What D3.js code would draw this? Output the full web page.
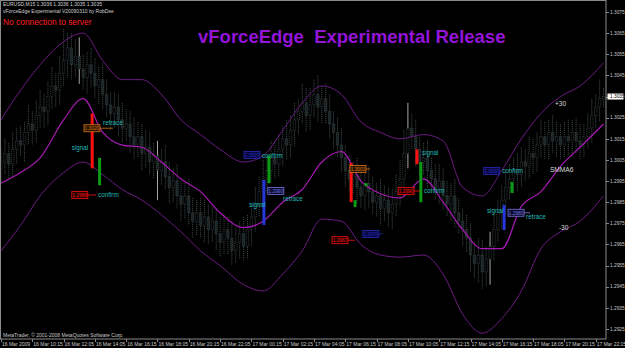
<!DOCTYPE html>
<html>
<head>
<meta charset="utf-8">
<script src="https://cdn.jsdelivr.net/npm/d3@7"></script>
<style>
  html, body { margin: 0; padding: 0; background: #000; overflow: hidden; }
  svg { display: block; }
  text { font-family: "Liberation Sans", Arial, sans-serif; }
</style>
</head>
<body>
<div id="chart"></div>
<script>
// EURUSD price data, pips above 1.2900
const BASE = 1.29, PIP = 0.0001;
const OPEN0 = 101;
const closes = [
  104,108,103,110,114,112,118,122,119,126,
  130,128,135,140,138,146,152,158,150,154,
  148,144,150,146,140,143,136,131,127,130,
  124,120,122,116,112,116,108,111,104,107,
  100,104,97,92,95,88,84,88,80,76,
  80,74,78,72,76,70,66,72,68,62,
  66,70,64,72,78,84,90,96,100,106,
  103,110,115,112,119,124,128,132,126,131,
  136,130,134,128,122,118,112,106,100,96,
  98,92,88,94,90,85,88,82,86,80,
  84,90,96,108,120,116,110,104,106,100,
  96,92,95,88,84,88,80,76,72,68,
  60,56,60,52,58,64,72,80,86,92,
  96,100,98,104,102,108,106,112,116,112,
  118,114,116,112,116,114,118,114,112,116,
  120,126,130,134,135
];
const wickUp = [
  6,7,5,8,6,7,5,9,6,7, 8,6,7,9,6,8,15,7,7,8, 9,7,6,8,7,6,8,7,6,7,
  6,8,7,6,9,7,6,8,7,6, 7,6,8,7,6,8,7,6,8,7, 6,7,8,6,7,6,8,7,6,7,
  7,6,8,7,6,8,7,9,7,8, 8,7,6,9,7,8,6,9,7,8, 7,9,6,7,8,6,7,8,6,7,
  6,8,7,6,8,7,6,8,7,6, 7,8,9,11,12,7,8,6,7,8, 6,7,8,6,7,6,8,7,6,7,
  7,6,8,7,6,7,8,6,7,8, 7,6,8,7,6,8,7,6,8,7, 6,8,7,6,7,8,6,7,8,6,
  7,8,6,9,4
];
const wickDn = [
  7,6,8,6,7,5,8,6,7,6, 6,8,7,6,8,7,6,8,7,6, 7,6,8,7,6,9,7,6,8,7,
  8,7,6,8,7,6,8,7,6,8, 14,7,6,8,7,6,8,7,6,8, 7,6,8,7,6,8,7,6,8,7,
  6,8,7,6,8,7,6,8,7,6, 7,6,8,7,6,8,7,6,8,7, 6,7,8,6,7,8,6,7,8,6,
  7,8,6,7,8,6,7,8,6,7, 8,6,7,9,7,6,8,7,6,8, 7,6,8,7,6,8,7,6,8,7,
  8,7,9,8,7,12,7,6,8,7, 6,7,8,6,7,6,8,7,6,7, 7,6,8,7,6,7,8,6,7,6,
  6,7,6,7,4
];
const whiteBars = [20, 40, 104, 125];

// SMMA6 and +/-30 envelopes (sampled bars, pips)
const lineBars = [0,5,10,16,21,26,31,36,41,46,51,56,62,67,72,77,82,87,92,97,102,108,113,118,123,128,133,138,143,148,154];
const smma   = [94,99,106,124,134,118,112,111,104,96,90,80,73,76,85,91,104,109,95,89,87,96,85,72,63,63,83,90,102,111,122];
const upper  = [124,138,150,161,165,152,143,143,136,124,117,110,104,107,119,132,140,136,123,118,115,117,114,92,88,100,115,127,135,140,151];
const lower  = [62,74,88,99,104,98,91,86,79,71,62,55,46,43,51,62,77,76,65,60,59,60,51,32,23,30,43,63,71,76,88];

// signal bars and price boxes
const signalBars = [
  { bar: 23.3, from: 127, to: 101, kind: 'red' },
  { bar: 25.2, from: 106, to: 93, kind: 'green' },
  { bar: 67.2, from: 95.5, to: 74.2, kind: 'blue' },
  { bar: 68.5, from: 107, to: 94, kind: 'green' },
  { bar: 89.5, from: 103.5, to: 85, kind: 'red' },
  { bar: 90.5, from: 86, to: 82.7, kind: 'green' },
  { bar: 93.3, from: 94, to: 92.5, kind: 'green' },
  { bar: 106.3, from: 110, to: 103, kind: 'red' },
  { bar: 107.3, from: 104, to: 85, kind: 'green' },
  { bar: 128.6, from: 83.7, to: 71.8, kind: 'blue' },
  { bar: 130.6, from: 94.6, to: 89.4, kind: 'green' }
];
const priceBoxes = [
  { bar: 21.2, pips: 120, end: 28.6, kind: 'orange' },
  { bar: 18.1, pips: 88.4, end: 24.3, kind: 'red' },
  { bar: 62.1, pips: 107.3, end: null, kind: 'navy' },
  { bar: 68.2, pips: 90.3, end: 72, kind: 'lilac' },
  { bar: 89.2, pips: 100.7, end: 94.3, kind: 'orange' },
  { bar: 84.6, pips: 67, end: 90.5, kind: 'red' },
  { bar: 92.5, pips: 70, end: 97.6, kind: 'navy' },
  { bar: 101.5, pips: 90.3, end: 107.1, kind: 'red' },
  { bar: 123.4, pips: 99.8, end: null, kind: 'navy' },
  { bar: 129.6, pips: 80, end: 135.2, kind: 'lilac' }
];
const notes = [
  { bar: 26.1, pips: 122.5, text: 'retrace' },
  { bar: 18.1, pips: 110.6, text: 'signal' },
  { bar: 24.8, pips: 88.4, text: 'confirm' },
  { bar: 66.7, pips: 106.9, text: 'confirm' },
  { bar: 63.4, pips: 83.7, text: 'signal' },
  { bar: 72.1, pips: 86.5, text: 'retrace' },
  { bar: 107.6, pips: 108.3, text: 'signal' },
  { bar: 108.1, pips: 90.3, text: 'confirm' },
  { bar: 128.1, pips: 99.8, text: 'confirm' },
  { bar: 124.2, pips: 80.8, text: 'signal' },
  { bar: 134.2, pips: 78, text: 'retrace' }
];
const bandLabels = [
  { bar: 141.6, pips: 131.5, text: '+30' },
  { bar: 140.3, pips: 100.2, text: 'SMMA6' },
  { bar: 142.6, pips: 72.8, text: '-30' }
];

// axes
const yTicks = [1.2925,1.2935,1.2945,1.2955,1.2965,1.2975,1.2985,1.2995,1.3005,1.3015,1.3025,1.3035,1.3045,1.3055,1.3065,1.3075];
const xTickBars = [0,8,16,24,32,40,48,56,64,72,80,88,96,104,112,120,128,136,144,152];
const xTickLabels = ['16 Mar 2009','16 Mar 10:15','16 Mar 12:05','16 Mar 14:05','16 Mar 16:15','16 Mar 18:05',
  '16 Mar 20:15','16 Mar 22:05','17 Mar 00:15','17 Mar 02:15','17 Mar 04:05','17 Mar 06:15','17 Mar 08:05',
  '17 Mar 10:05','17 Mar 12:15','17 Mar 14:05','17 Mar 16:15','17 Mar 18:05','17 Mar 20:15','17 Mar 22:15'];
const lastPrice = 1.3035;
const headerLines = ['EURUSD,M15  1.3036 1.3036 1.3035 1.3035', 'vForceEdge Experimental V20090310 by RobDee'];

class MtChart {
  constructor(container) {
    this.container = document.querySelector(container);
    this.width = 625;
    this.height = 348;
    this.plotW = 606;
    this.plotH = 339;
    this.colors = {
      red: '#ff1010', green: '#0a9a14', blue: '#2636d8',
      orange: '#d8761a', navy: '#2a2ab8', lilac: '#7676e6',
      note: '#22b8b8', axis: '#8a8a8a', label: '#c8c8c8'
    };
  }

  render() {
    const W = this.width, H = this.height, C = this.colors;
    const price = p => BASE + p * PIP;

    const svg = d3.select(this.container).append('svg')
      .attr('width', W).attr('height', H)
      .style('background', '#000');

    const x = d3.scaleLinear().domain([0, 154]).range([1, 1 + 3.9125 * 154]);
    const y = d3.scaleLinear().domain([1.2925, 1.3075]).range([329, 12]);

    const plot = svg.append('g');
    plot.append('clipPath').attr('id', 'clip')
      .append('rect').attr('width', this.plotW).attr('height', this.plotH);
    const g = plot.append('g').attr('clip-path', 'url(#clip)');

    // candles
    const bars = closes.map((c, i) => {
      const o = i === 0 ? OPEN0 : closes[i - 1];
      return { i, o, c, h: Math.max(o, c) + wickUp[i], l: Math.min(o, c) - wickDn[i] };
    });
    const cg = g.append('g');
    bars.forEach(d => {
      const white = whiteBars.includes(d.i);
      const col = '#3c4848';
      cg.append('line')
        .attr('x1', x(d.i)).attr('x2', x(d.i))
        .attr('y1', y(price(d.h))).attr('y2', y(price(d.l)))
        .attr('stroke', white ? '#b8b8b8' : col).attr('stroke-width', 0.9)
        .attr('stroke-dasharray', white ? null : '1.2,0.8');
      const top = y(price(Math.max(d.o, d.c)));
      const bot = y(price(Math.min(d.o, d.c)));
      cg.append('rect')
        .attr('x', x(d.i) - 1.2).attr('width', 2.4)
        .attr('y', top).attr('height', Math.max(0.8, bot - top))
        .attr('fill', d.c >= d.o ? '#000' : '#1c2626')
        .attr('stroke', col).attr('stroke-width', 0.7)
        .attr('stroke-dasharray', '1.2,0.8');
    });

    // envelope lines
    const line = arr => d3.line()
      .x((d, k) => x(lineBars[k]))
      .y(d => y(price(d)))
      .curve(d3.curveMonotoneX)(arr);
    g.append('path').attr('d', line(upper)).attr('fill', 'none').attr('stroke', '#6c1a84').attr('stroke-width', 1);
    g.append('path').attr('d', line(lower)).attr('fill', 'none').attr('stroke', '#6c1a84').attr('stroke-width', 1);
    g.append('path').attr('d', line(smma)).attr('fill', 'none').attr('stroke', '#a81ab4').attr('stroke-width', 1.2);

    // signal bars
    g.selectAll('rect.sig').data(signalBars).enter().append('rect')
      .attr('class', 'sig')
      .attr('x', d => x(d.bar) - 1.5).attr('width', 3)
      .attr('y', d => y(price(d.from)))
      .attr('height', d => y(price(d.to)) - y(price(d.from)))
      .attr('fill', d => C[d.kind]);

    // price boxes
    const boxFill = { orange: '#2a1400', red: '#1e0000', navy: '#080840', lilac: '#0a0a28' };
    const pb = g.selectAll('g.pbox').data(priceBoxes).enter().append('g').attr('class', 'pbox');
    pb.filter(d => d.end !== null).append('line')
      .attr('x1', d => x(d.bar) + 16).attr('x2', d => x(d.end))
      .attr('y1', d => y(price(d.pips))).attr('y2', d => y(price(d.pips)))
      .attr('stroke', d => C[d.kind]).attr('stroke-width', 0.8);
    pb.append('rect')
      .attr('x', d => x(d.bar)).attr('y', d => y(price(d.pips)) - 3.5)
      .attr('width', 16).attr('height', 7)
      .attr('fill', d => boxFill[d.kind]).attr('stroke', d => C[d.kind]).attr('stroke-width', 0.8);
    pb.append('text')
      .attr('x', d => x(d.bar) + 8).attr('y', d => y(price(d.pips)) + 1.8)
      .attr('text-anchor', 'middle').attr('font-size', 4.8)
      .attr('fill', d => C[d.kind])
      .text(d => d3.format('.4f')(price(d.pips)));

    // notes
    g.selectAll('text.note').data(notes).enter().append('text')
      .attr('class', 'note')
      .attr('x', d => x(d.bar)).attr('y', d => y(price(d.pips)) + 2.2)
      .attr('font-size', 6.3).attr('fill', C.note)
      .text(d => d.text);
    g.selectAll('text.band').data(bandLabels).enter().append('text')
      .attr('class', 'band')
      .attr('x', d => x(d.bar)).attr('y', d => y(price(d.pips)) + 2.4)
      .attr('font-size', 6.6).attr('fill', '#d8d8d8')
      .text(d => d.text);

    // frame
    svg.append('rect').attr('x', 0.5).attr('y', 0.5)
      .attr('width', this.plotW - 0.5).attr('height', this.plotH - 0.5)
      .attr('fill', 'none').attr('stroke', C.axis).attr('stroke-width', 1);

    // y axis
    const ya = svg.append('g');
    yTicks.forEach(t => {
      ya.append('line').attr('x1', this.plotW).attr('x2', this.plotW + 3)
        .attr('y1', Math.round(y(t)) + 0.5).attr('y2', Math.round(y(t)) + 0.5)
        .attr('stroke', C.axis);
      ya.append('text').attr('x', this.plotW + 4).attr('y', y(t) + 1.7)
        .attr('font-size', 4.8).attr('fill', C.label)
        .text(d3.format('.4f')(t));
    });
    ya.append('rect').attr('x', this.plotW + 1.5).attr('y', y(lastPrice) - 3)
      .attr('width', 16).attr('height', 6).attr('fill', '#fff');
    ya.append('text').attr('x', this.plotW + 4).attr('y', y(lastPrice) + 1.7)
      .attr('font-size', 4.8).attr('fill', '#000')
      .text(d3.format('.4f')(lastPrice));

    // x axis
    const xa = svg.append('g');
    xTickBars.forEach((b, k) => {
      xa.append('line').attr('x1', Math.round(x(b)) + 0.5).attr('x2', Math.round(x(b)) + 0.5)
        .attr('y1', this.plotH).attr('y2', this.plotH + 3).attr('stroke', C.axis);
      xa.append('text').attr('x', x(b) + 1).attr('y', this.plotH + 6.5)
        .attr('font-size', 5).attr('fill', C.label)
        .text(xTickLabels[k]);
    });

    // headers
    svg.selectAll('text.hdr').data(headerLines).enter().append('text')
      .attr('x', 3).attr('y', (d, k) => 6 + k * 6.5)
      .attr('font-size', 5).attr('fill', '#d0d0d0')
      .text(d => d);
    svg.append('text').attr('x', 3).attr('y', 24.5)
      .attr('font-size', 8.4).attr('fill', '#ff2020')
      .text('No connection to server');
    svg.append('text').attr('x', 198).attr('y', 43)
      .attr('font-size', 18.5).attr('font-weight', 'bold').attr('fill', '#9414d8')
      .style('white-space', 'pre')
      .text('vForceEdge  Experimental Release');
    svg.append('text').attr('x', 3).attr('y', 337)
      .attr('font-size', 5).attr('fill', '#c8c8c8')
      .text('MetaTrader, \u00a9 2001-2008 MetaQuotes Software Corp.');
  }
}

new MtChart('#chart').render();
</script>
</body>
</html>
